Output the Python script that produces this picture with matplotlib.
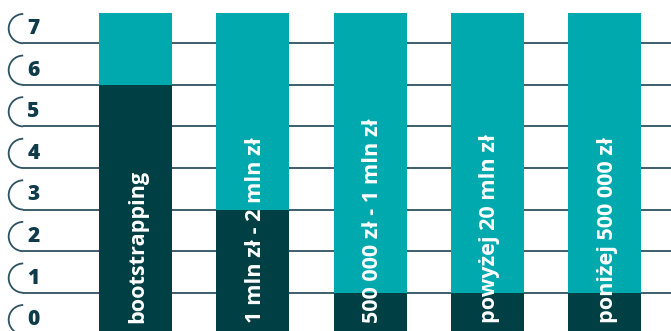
import matplotlib
matplotlib.use("Agg")
from matplotlib import pyplot as plt
from matplotlib.patches import Arc
import numpy as np

categories = ["bootstrapping", "1 mln zł - 2 mln zł", "500 000 zł - 1 mln zł",
              "powyżej 20 mln zł", "poniżej 500 000 zł"]
dark_values = [6.0, 3.0, 1.0, 1.0, 1.0]
total_values = [7.73, 7.73, 7.73, 7.73, 7.73]
y_ticks = [0, 1, 2, 3, 4, 5, 6, 7]

teal = "#00a9ae"
dark = "#003f43"
line_color = "#2e5262"
label_color = "#0f3b4b"

plt.rcParams["font.family"] = ["Open Sans", "DejaVu Sans"]

figure = plt.figure(figsize=(6.71, 3.31), dpi=100)
axes = figure.add_axes([0, 0, 1, 1])
axes.set_xlim(-1.155, 4.565)
axes.set_ylim(0.08, 8.04)
axes.axis("off")

x = np.arange(len(categories))

# pill-shaped gridlines: a half circle on the left, then the line to the right edge
r_x, r_y = 0.124, 0.352
x_start = -0.957
for tick in y_ticks:
    axes.plot([x_start, 4.6], [tick, tick], color=line_color, lw=1.3, zorder=1,
              solid_capstyle="butt")
    axes.add_patch(Arc((x_start, tick + r_y), 2 * r_x, 2 * r_y, theta1=90, theta2=270,
                       color=line_color, lw=1.3, zorder=1))
    axes.text(x_start + 0.088, tick + r_y, str(tick), ha="center", va="center",
              fontsize=15, fontweight=800, color=label_color)

width = 0.622
axes.bar(x, total_values, width=width, color=teal, zorder=2)
axes.bar(x, dark_values, width=width, color=dark, zorder=3)

for xi, name in zip(x, categories):
    axes.text(xi + 0.02, 0.27, name, rotation=90, ha="center", va="bottom",
              color="white", fontsize=15.6, fontweight="bold", zorder=4)

figure.savefig("out.png", dpi=100)
